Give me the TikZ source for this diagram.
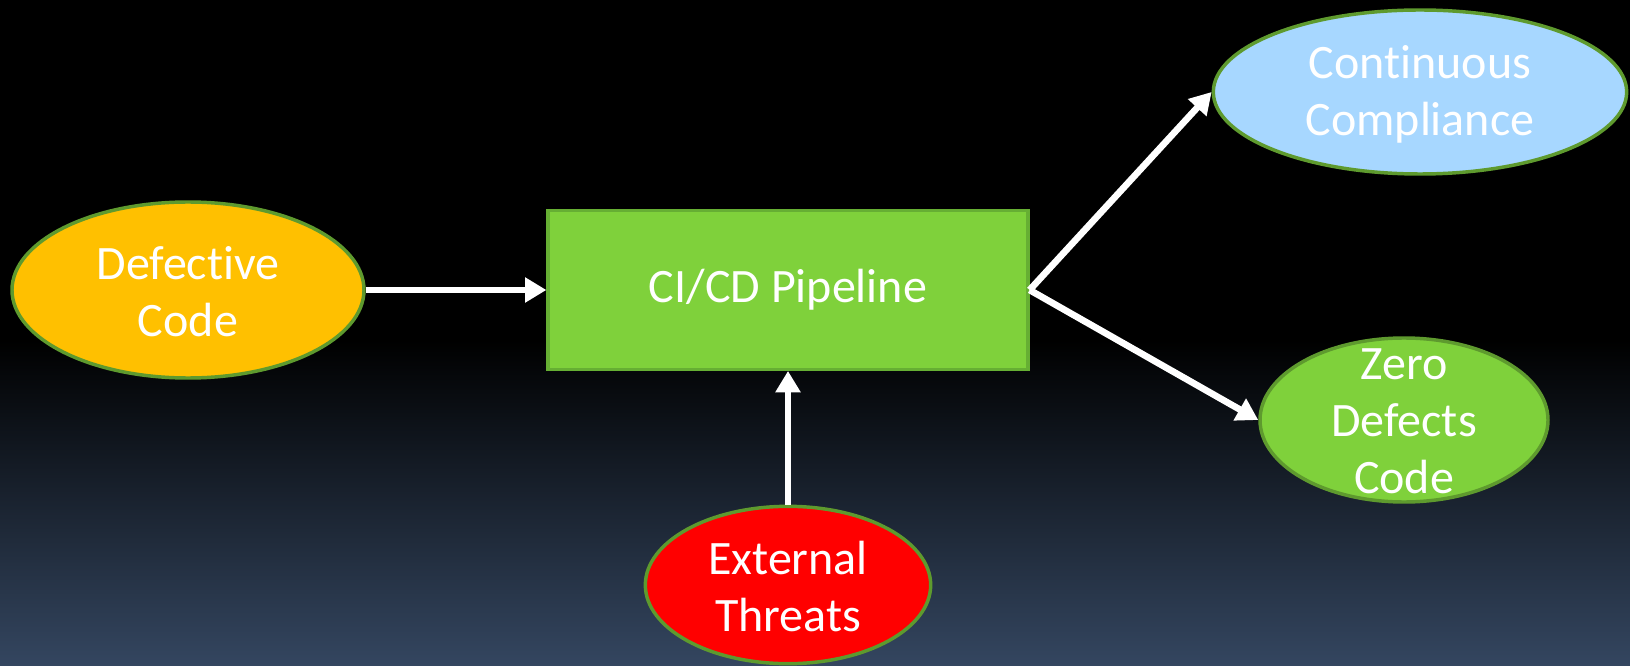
\documentclass[tikz,border=0pt]{standalone}
\usepackage{fontspec}
\setmainfont{Carlito}[Ligatures=NoCommon]
\usetikzlibrary{arrows.meta,shapes.geometric}

\definecolor{bgblue}{RGB}{52,70,96}
\definecolor{defyellow}{RGB}{255,192,0}
\definecolor{pipegreen}{RGB}{127,209,59}
\definecolor{compblue}{RGB}{167,215,255}
\definecolor{ringgreen}{RGB}{94,154,46}
\definecolor{boxgreen}{RGB}{102,175,51}

\tikzset{
  blob/.style={ellipse,draw=ringgreen,line width=2.6pt,inner sep=0pt},
  txt/.style={text=white,align=center,font=\fontsize{36}{42.5}\selectfont},
  flow/.style={draw=white,line width=5pt,-{Triangle[width=18pt,length=16pt]}}
}

\begin{document}
\begin{tikzpicture}[x=0.75pt,y=-0.75pt]
\useasboundingbox (0,0) rectangle (1630,666);

% the dark background, fading to blue at the bottom
\fill[black] (0,0) rectangle (1630,666);
\shade[top color=black,bottom color=bgblue] (0,340) rectangle (1630,666);

% the pipeline box
\node[draw=boxgreen,line width=2.4pt,fill=pipegreen,minimum width=360pt,
  minimum height=119pt,txt] (pipe) at (788,290) {CI/CD Pipeline};

% the ellipses round it
\node[blob,fill=defyellow,minimum width=264pt,minimum height=132pt,
  label={[txt,yshift=-1pt]center:Defective\\Code}] (defect) at (188,290) {};
\node[blob,fill=compblue,minimum width=310pt,minimum height=123pt,
  label={[txt,yshift=-2pt]center:Continuous\\Compliance}] (comply) at (1420,92) {};
\node[blob,fill=pipegreen,minimum width=216pt,minimum height=123pt,
  label={[txt,yshift=-1pt]center:Zero\\Defects\\Code}] (zero) at (1404,420) {};
\node[blob,fill=red,minimum width=214pt,minimum height=118pt,
  label={[txt,yshift=-1pt]center:External\\Threats}] (threat) at (788,585) {};

% the arrows
\draw[flow] (defect.east) -- (pipe.west);
\draw[flow] (threat.north) -- (pipe.south);
\foreach \goal in {comply,zero}
{
  \draw[flow] (pipe.east) -- (\goal.west);
}
\end{tikzpicture}
\end{document}
